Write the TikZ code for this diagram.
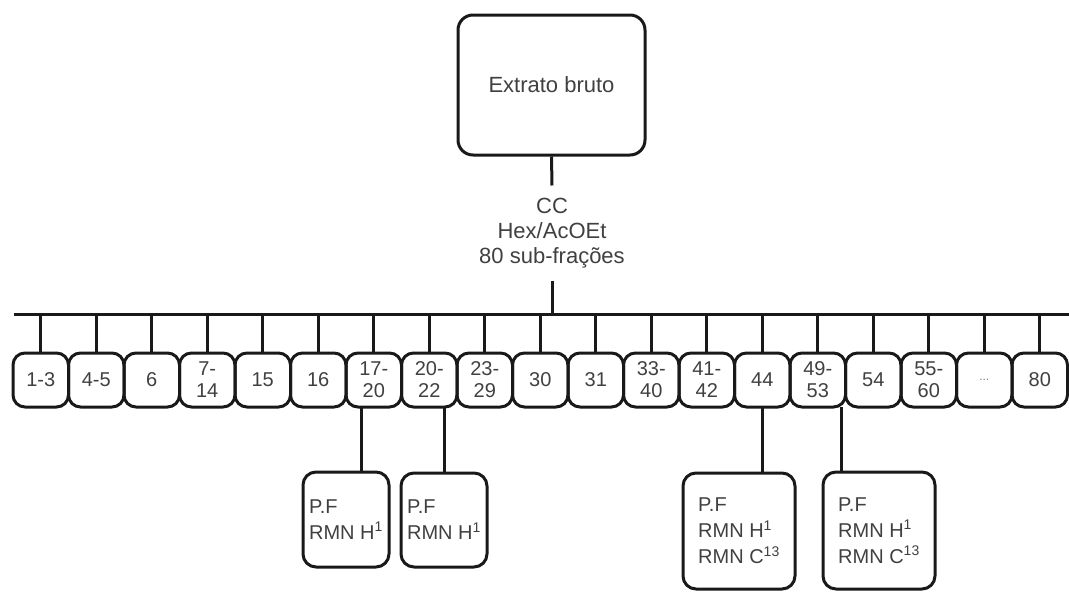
\documentclass[tikz,border=0pt]{standalone}
\usepackage{fontspec}
\setmainfont{Liberation Sans}
\usetikzlibrary{positioning}

\begin{document}
\begin{tikzpicture}[x=1pt, y=-1pt,
  line width=3pt,
  topbox/.style={draw=black!90, rounded corners=15pt, minimum width=187pt, minimum height=140pt,
                 text=black!75, font=\fontsize{22}{25}\selectfont},
  frac/.style={draw=black!90, rounded corners=12pt, minimum width=55.5pt, minimum height=54pt,
               inner sep=0pt, outer sep=0pt, align=center, text=black!75,
               font=\fontsize{20}{22}\selectfont},
  res/.style={draw=black!90, rounded corners=13pt, inner sep=0pt, outer sep=0pt, align=left,
              text=black!75, font=\fontsize{20}{26}\selectfont},
  lbl/.style={align=center, inner xsep=2pt, inner ysep=11pt, text=black!75,
              font=\fontsize{22}{25}\selectfont},
  wire/.style={draw=black!90, line width=3pt},
]
\useasboundingbox (0,0) rectangle (1069,592);

% --- Extract and column ---
\node[topbox] (ext) at (551.5,85) {Extrato bruto};
\node[lbl] (cc) at (552,233) {CC\\Hex/AcOEt\\80 sub-frações};
\draw[wire] (ext.south) -- (cc.north);

% --- Sub-fractions ---
\coordinate (busL) at (14,314);
\coordinate (busR) at (1069,314);
\draw[wire] (cc.south) -- (cc.south |- busL);
\draw[wire] (busL) -- (busR);

\node[frac] (f1) at (40.75,380) {1-3};
\node[frac, right=0pt of f1] (f2) {4-5};
\node[frac, right=0pt of f2] (f3) {6};
\node[frac, right=0pt of f3] (f4) {7-\\14};
\node[frac, right=0pt of f4] (f5) {15};
\node[frac, right=0pt of f5] (f6) {16};
\node[frac, right=0pt of f6] (f7) {17-\\20};
\node[frac, right=0pt of f7] (f8) {20-\\22};
\node[frac, right=0pt of f8] (f9) {23-\\29};
\node[frac, right=0pt of f9] (f10) {30};
\node[frac, right=0pt of f10] (f11) {31};
\node[frac, right=0pt of f11] (f12) {33-\\40};
\node[frac, right=0pt of f12] (f13) {41-\\42};
\node[frac, right=0pt of f13] (f14) {44};
\node[frac, right=0pt of f14] (f15) {49-\\53};
\node[frac, right=0pt of f15] (f16) {54};
\node[frac, right=0pt of f16] (f17) {55-\\60};
\node[frac, right=0pt of f17, font=\fontsize{12}{14}\selectfont, text=black!50] (f18) {...};
\node[frac, right=0pt of f18] (f19) {80};

\foreach \i in {1,...,19}
  \draw[wire] (f\i.north) -- (f\i.north |- busL);

% --- Analyses ---
\node[res, minimum width=86pt, minimum height=95pt] (pf1) at (346,519.5) {P.F\\RMN H\textsuperscript{1}};
\node[res, minimum width=86pt, minimum height=94pt] (pf2) at (444,520) {P.F\\RMN H\textsuperscript{1}};
\node[res, minimum width=112pt, minimum height=116pt] (pf3) at (739,531) {P.F\\RMN H\textsuperscript{1}\\RMN C\textsuperscript{13}};
\node[res, minimum width=112pt, minimum height=117pt] (pf4) at (879,530.5) {P.F\\RMN H\textsuperscript{1}\\RMN C\textsuperscript{13}};

\draw[wire] ([xshift=15pt]pf1.north) -- ([xshift=15pt]pf1.north |- f7.south);
\draw[wire] (pf2.north) -- (pf2.north |- f8.south);
\draw[wire] (f14.south) -- (f14.south |- pf3.north);
\draw[wire] ([xshift=-38pt]pf4.north) -- ([xshift=-38pt]pf4.north |- f15.south);
\end{tikzpicture}
\end{document}
